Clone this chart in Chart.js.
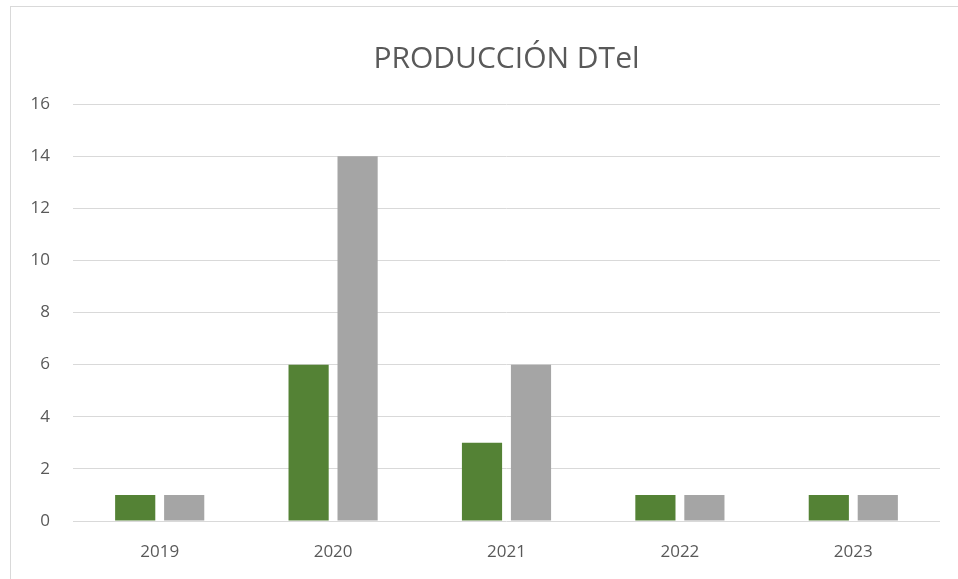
<!DOCTYPE html>
<html lang="es">
<head>
  <meta charset="UTF-8" />
  <title>Producción DTel</title>
  <script src="https://cdn.jsdelivr.net/npm/chart.js"></script>
  <style>
    html, body { margin: 0; padding: 0; background: #fff; }
    .frame {
      position: absolute; left: 10px; top: 6px;
      width: 960px; height: 580px;
      border: 1px solid #d9d9d9;
    }
    .wrap { position: absolute; left: 0; top: 0; width: 958px; height: 579px; }
  </style>
</head>
<body>
  <div class="frame"></div>
  <div class="wrap"><canvas id="prodChart" width="958" height="579"></canvas></div>

  <script>
    const years = ['2019', '2020', '2021', '2022', '2023'];
    const greenValues = [1, 6, 3, 1, 1];
    const grayValues = [1, 14, 6, 1, 1];

    const FONT = "'Open Sans', 'Noto Sans', sans-serif";
    const TEXT = '#595959';

    new Chart(document.getElementById('prodChart'), {
      type: 'bar',
      data: {
        labels: years,
        datasets: [
          { label: 'Serie 1', data: greenValues, backgroundColor: '#548235',
            categoryPercentage: 0.565, barPercentage: 0.82 },
          { label: 'Serie 2', data: grayValues, backgroundColor: '#a5a5a5',
            categoryPercentage: 0.565, barPercentage: 0.82 }
        ]
      },
      options: {
        responsive: false,
        animation: false,
        layout: { padding: { left: 0, right: 18, top: 0, bottom: 0 } },
        plugins: {
          legend: { display: false },
          tooltip: { enabled: false },
          title: {
            display: true,
            fullSize: false,
            text: 'PRODUCCIÓN DTel',
            color: TEXT,
            font: { family: FONT, size: 30, weight: 'normal' },
            padding: { top: 41, bottom: 27 }
          }
        },
        scales: {
          x: {
            grid: { display: false },
            border: { display: false },
            ticks: { color: TEXT, font: { family: FONT, size: 17 }, padding: 13 },
            afterFit: s => { s.height = 58; }
          },
          y: {
            min: 0, max: 16,
            ticks: { stepSize: 2, color: TEXT, font: { family: FONT, size: 17 }, padding: 23 },
            grid: { color: '#d9d9d9', lineWidth: 1, drawTicks: false },
            border: { display: false },
            afterFit: s => { s.width = 73; }
          }
        }
      }
    });
  </script>
</body>
</html>
